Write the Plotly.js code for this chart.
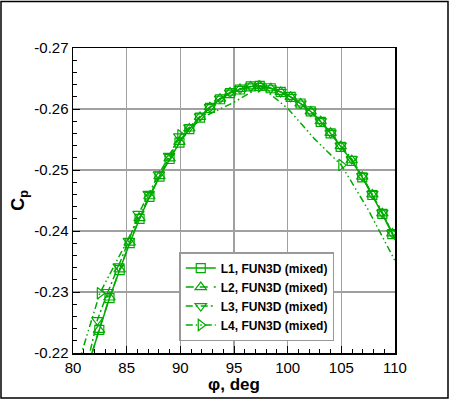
<!DOCTYPE html>
<html>
<head>
<meta charset="utf-8">
<script src="https://cdn.plot.ly/plotly-3.0.1.min.js"></script>
<style>html,body{margin:0;padding:0;background:#fff;}#chart{width:450px;height:400px;}</style>
</head>
<body>
<div id="chart"></div>
<script>
// ---- data ----
var seriesNames = ['L1, FUN3D (mixed)', 'L2, FUN3D (mixed)', 'L3, FUN3D (mixed)', 'L4, FUN3D (mixed)'];

var phi1 = [81.4, 82.45, 83.4, 84.35, 85.28, 86.2, 87.12, 88.06, 89.0, 89.92, 90.84, 91.83, 92.76, 93.7, 94.63, 95.56, 96.56, 97.4, 98.42, 99.35, 100.28, 101.2, 102.15, 103.08, 104.0, 104.94, 105.97, 106.95, 107.89, 108.82, 109.75, 110.6];
var cp1  = [-0.2180, -0.2238, -0.2290, -0.2336, -0.2380, -0.2420, -0.2456, -0.2489, -0.2518, -0.2545, -0.2567, -0.2586, -0.2602, -0.2616, -0.2626, -0.2632, -0.2637, -0.2638, -0.2634, -0.2628, -0.2620, -0.2609, -0.2596, -0.2579, -0.2560, -0.2538, -0.2515, -0.2488, -0.2459, -0.2428, -0.2395, -0.2365];

var phi2 = [81.45, 82.42, 83.4, 84.35, 85.28, 86.2, 87.12, 88.06, 89.0, 89.92, 90.84, 91.83, 92.76, 93.7, 94.63, 95.56, 96.56, 97.4, 98.42, 99.35, 100.28, 101.2, 102.15, 103.08, 104.0, 104.94, 105.97, 106.95, 107.89, 108.82, 109.75, 110.6];
var cp2  = [-0.2180, -0.2238, -0.2291, -0.2337, -0.2381, -0.2421, -0.2457, -0.2490, -0.2519, -0.2546, -0.2568, -0.2587, -0.2603, -0.2617, -0.2627, -0.2633, -0.2637, -0.2638, -0.2634, -0.2628, -0.2620, -0.2609, -0.2596, -0.2580, -0.2561, -0.2539, -0.2516, -0.2489, -0.2460, -0.2429, -0.2396, -0.2366];

var phi3 = [81.3, 82.27, 83.25, 84.25, 85.2, 86.1, 87.05, 88.0, 88.95, 89.9, 90.84, 91.83, 92.76, 93.7, 94.63, 95.56, 96.56, 97.4, 98.42, 99.35, 100.28, 101.2, 102.15, 103.08, 104.0, 104.94, 105.97, 106.95, 107.89, 108.82, 109.75, 110.6];
var cp3  = [-0.2180, -0.2254, -0.2300, -0.2342, -0.2384, -0.2428, -0.2461, -0.2493, -0.2523, -0.2555, -0.2570, -0.2588, -0.2603, -0.2617, -0.2627, -0.2633, -0.2637, -0.2638, -0.2634, -0.2628, -0.2620, -0.2609, -0.2596, -0.2580, -0.2561, -0.2540, -0.2518, -0.2490, -0.2461, -0.2430, -0.2397, -0.2368];

var phi4 = [80.5, 82.5, 85, 87.5, 90, 92.5, 95, 97.5, 100, 102.5, 105, 107.5, 110, 110.6];
var cp4  = [-0.2183, -0.2298, -0.2382, -0.2470, -0.2557, -0.2590, -0.2611, -0.2637, -0.2601, -0.2551, -0.2508, -0.2435, -0.2352, -0.2331];
var phi4Markers = [82.5, 90, 97.5, 105];

var xTickVals = [80, 85, 90, 95, 100, 105, 110];
var yTickVals = [-0.27, -0.26, -0.25, -0.24, -0.23, -0.22];
var yTickText = ['-0.27', '-0.26', '-0.25', '-0.24', '-0.23', '-0.22'];

// ---- styling ----
var green = '#00aa00';
var FONT = 'Liberation Sans, Arial, Helvetica, sans-serif';

var l4Colors = phi4.map(function (p, i) {
  return (i === 0 || phi4Markers.indexOf(p) >= 0) ? green : 'rgba(0,0,0,0)';
});

var traces = [
  {x: phi1, y: cp1, name: seriesNames[0], mode: 'lines+markers',
   line: {color: green, width: 1.5},
   marker: {symbol: 'square-open', size: 9, color: green, line: {width: 1.2}}},
  {x: phi2, y: cp2, name: seriesNames[1], mode: 'lines+markers',
   line: {color: green, width: 1.5, dash: '8px,6px'},
   marker: {symbol: 'triangle-up-open', size: 10, color: green, line: {width: 1.2}}},
  {x: phi3, y: cp3, name: seriesNames[2], mode: 'lines+markers',
   line: {color: green, width: 1.5, dash: '7px,3px,2px,3px'},
   marker: {symbol: 'triangle-down-open', size: 10, color: green, line: {width: 1.2}}},
  {x: phi4, y: cp4, name: seriesNames[3], mode: 'lines+markers',
   line: {color: green, width: 1.5, dash: '7px,3px,1.5px,3px,1.5px,3px'},
   marker: {symbol: 'triangle-right-open', size: 10, color: l4Colors, line: {width: 1.2}}}
];

var layout = {
  width: 450, height: 400,
  margin: {l: 73, r: 55, t: 48, b: 47, pad: 0},
  paper_bgcolor: '#fff', plot_bgcolor: '#fff',
  font: {family: FONT, color: '#000'},
  showlegend: true,
  xaxis: {
    range: [80, 110], tickmode: 'array', tickvals: xTickVals,
    ticks: 'inside', ticklen: 7, tickwidth: 1, tickcolor: '#000',
    minor: {ticks: 'inside', ticklen: 4, tickwidth: 1, tickcolor: '#000', dtick: 1, tick0: 80, tickmode: 'linear', showgrid: false},
    showline: true, linecolor: '#000', linewidth: 1.5, mirror: true,
    showgrid: true, gridcolor: '#a0a0a0', gridwidth: 1.5, zeroline: false,
    tickfont: {size: 15, family: FONT},
    title: {text: '<b>φ, deg</b>', font: {size: 17, family: FONT}, standoff: 1}
  },
  yaxis: {
    range: [-0.22, -0.27], tickmode: 'array', tickvals: yTickVals, ticktext: yTickText,
    ticks: 'inside', ticklen: 7, tickwidth: 1, tickcolor: '#000',
    minor: {ticks: 'inside', ticklen: 4, tickwidth: 1, tickcolor: '#000', dtick: 0.002, tick0: -0.27, tickmode: 'linear', showgrid: false},
    showline: true, linecolor: '#000', linewidth: 1.5, mirror: true,
    showgrid: true, gridcolor: '#a0a0a0', gridwidth: 1.5, zeroline: false,
    tickfont: {size: 15, family: FONT},
    title: {text: '<b>C<sub>p</sub></b>', font: {size: 18, family: FONT}, standoff: 5}
  },
  legend: {
    x: 0.33, y: 0.331, xanchor: 'left', yanchor: 'top',
    bgcolor: '#fff', bordercolor: '#999', borderwidth: 1.5,
    font: {size: 12, family: FONT, weight: 'bold'}
  },
  shapes: [{
    type: 'rect', xref: 'paper', yref: 'paper',
    x0: -0.2236, x1: 1.1646, y0: -0.1475, y1: 1.1525,
    line: {color: '#000', width: 1.5}
  }]
};

Plotly.newPlot('chart', traces, layout, {displayModeBar: false, staticPlot: true});
</script>
</body>
</html>
